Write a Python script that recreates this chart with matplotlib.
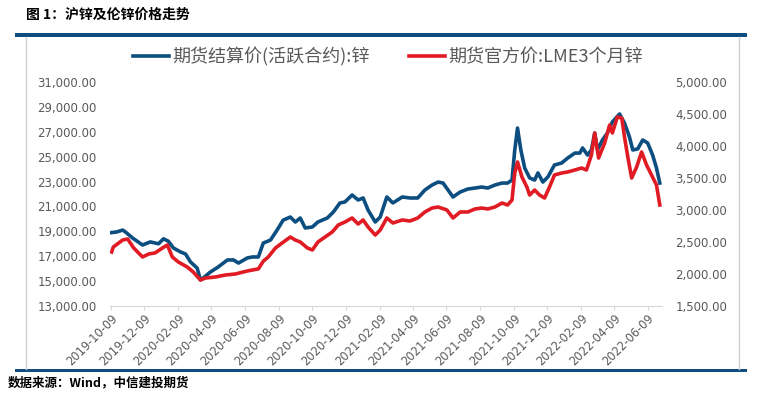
import numpy as np
import pandas as pd
import matplotlib
matplotlib.use("Agg")
import matplotlib.pyplot as plt
import matplotlib.dates as mdates
from matplotlib.lines import Line2D
from matplotlib.patches import Rectangle
from matplotlib.ticker import FuncFormatter

plt.rcParams['font.family'] = ['Noto Sans CJK SC', 'DejaVu Sans']

# SHFE zinc settlement price (active contract), CNY/t
shfe_dates = ['2019-10-11', '2019-10-20', '2019-10-31', '2019-11-05', '2019-11-18', '2019-12-06',
              '2019-12-20', '2020-01-04', '2020-01-13', '2020-01-22', '2020-01-31', '2020-02-13',
              '2020-02-22', '2020-03-02', '2020-03-14', '2020-03-20', '2020-03-25', '2020-04-07',
              '2020-04-21', '2020-05-08', '2020-05-19', '2020-05-28', '2020-06-13', '2020-06-22',
              '2020-07-03', '2020-07-12', '2020-07-25', '2020-08-06', '2020-08-17', '2020-08-30',
              '2020-09-08', '2020-09-17', '2020-09-26', '2020-10-09', '2020-10-19', '2020-11-05',
              '2020-11-16', '2020-11-28', '2020-12-07', '2020-12-20', '2020-12-31', '2021-01-09',
              '2021-01-18', '2021-01-31', '2021-02-09', '2021-02-21', '2021-03-04', '2021-03-21',
              '2021-04-04', '2021-04-18', '2021-05-01', '2021-05-14', '2021-05-25', '2021-06-03',
              '2021-06-12', '2021-06-21', '2021-07-04', '2021-07-18', '2021-07-31', '2021-08-12',
              '2021-08-23', '2021-09-05', '2021-09-18', '2021-09-28', '2021-10-06', '2021-10-11',
              '2021-10-16', '2021-10-22', '2021-10-29', '2021-11-07', '2021-11-16', '2021-11-22',
              '2021-12-01', '2021-12-10', '2021-12-22', '2022-01-04', '2022-01-15', '2022-01-28',
              '2022-02-06', '2022-02-11', '2022-02-20', '2022-02-27', '2022-03-05', '2022-03-10',
              '2022-03-19', '2022-03-28', '2022-04-06', '2022-04-19', '2022-04-28', '2022-05-07',
              '2022-05-13', '2022-05-22', '2022-05-31', '2022-06-09', '2022-06-18', '2022-06-25',
              '2022-07-01']
shfe_zinc = [18900, 18950, 19100, 18950, 18460, 17900,
             18150, 18000, 18400, 18200, 17660, 17340,
             17180, 16540, 16050, 15090, 15250, 15730,
             16130, 16700, 16700, 16450, 16860, 16940,
             16940, 18060, 18300, 19100, 19900, 20150,
             19750, 20070, 19270, 19350, 19750, 20070,
             20550, 21280, 21360, 21920, 21520, 21680,
             20710, 19750, 20150, 21760, 21280, 21760,
             21680, 21680, 22320, 22720, 22960, 22880,
             22320, 21760, 22160, 22400, 22480, 22560,
             22480, 22720, 22880, 22880, 23120, 25540,
             27300, 25540, 24090, 23290, 23120, 23690,
             22960, 23370, 24330, 24490, 24890, 25290,
             25290, 25700, 25130, 25540, 26900, 25540,
             26340, 26900, 27790, 28430, 27700, 26580,
             25540, 25620, 26340, 26100, 25130, 24090,
             22880]

# LME 3-month zinc official price, USD/t
lme_dates = ['2019-10-11', '2019-10-14', '2019-10-31', '2019-11-09', '2019-11-20', '2019-12-06',
             '2019-12-17', '2019-12-29', '2020-01-11', '2020-01-20', '2020-01-29', '2020-02-09',
             '2020-02-25', '2020-03-07', '2020-03-20', '2020-03-29', '2020-04-16', '2020-05-04',
             '2020-05-22', '2020-06-13', '2020-07-03', '2020-07-12', '2020-07-21', '2020-08-03',
             '2020-08-15', '2020-08-30', '2020-09-08', '2020-09-17', '2020-09-30', '2020-10-09',
             '2020-10-19', '2020-11-01', '2020-11-14', '2020-11-25', '2020-12-07', '2020-12-20',
             '2020-12-31', '2021-01-09', '2021-01-18', '2021-01-31', '2021-02-09', '2021-02-21',
             '2021-03-04', '2021-03-21', '2021-04-04', '2021-04-18', '2021-05-01', '2021-05-14',
             '2021-05-25', '2021-06-10', '2021-06-21', '2021-07-04', '2021-07-18', '2021-07-31',
             '2021-08-12', '2021-08-23', '2021-09-05', '2021-09-18', '2021-09-28', '2021-10-06',
             '2021-10-11', '2021-10-16', '2021-10-24', '2021-11-02', '2021-11-07', '2021-11-16',
             '2021-11-25', '2021-12-04', '2021-12-13', '2021-12-22', '2022-01-04', '2022-01-15',
             '2022-01-28', '2022-02-09', '2022-02-18', '2022-02-27', '2022-03-05', '2022-03-12',
             '2022-03-23', '2022-04-01', '2022-04-06', '2022-04-15', '2022-04-23', '2022-04-28',
             '2022-05-04', '2022-05-11', '2022-05-20', '2022-05-29', '2022-06-07', '2022-06-16',
             '2022-06-25', '2022-07-01']
lme_zinc = [2344, 2422, 2531, 2547, 2406, 2266,
            2312, 2330, 2406, 2453, 2266, 2187,
            2110, 2031, 1906, 1937, 1953, 1984,
            2000, 2047, 2080, 2200, 2266, 2406,
            2484, 2578, 2531, 2500, 2406, 2375,
            2500, 2578, 2656, 2766, 2812, 2875,
            2781, 2844, 2734, 2609, 2687, 2875,
            2797, 2844, 2828, 2875, 2969, 3031,
            3047, 3000, 2875, 2969, 2969, 3016,
            3031, 3016, 3047, 3109, 3078, 3156,
            3578, 3750, 3516, 3359, 3234, 3312,
            3234, 3187, 3359, 3547, 3578, 3594,
            3625, 3656, 3625, 3859, 4203, 3812,
            4047, 4328, 4203, 4453, 4437, 4140,
            3828, 3500, 3672, 3906, 3703, 3547,
            3390, 3078]

tick_dates = ['2019-10-09', '2019-12-09', '2020-02-09', '2020-04-09', '2020-06-09', '2020-08-09',
              '2020-10-09', '2020-12-09', '2021-02-09', '2021-04-09', '2021-06-09', '2021-08-09',
              '2021-10-09', '2021-12-09', '2022-02-09', '2022-04-09', '2022-06-09']
left_ticks = [13000, 15000, 17000, 19000, 21000, 23000, 25000, 27000, 29000, 31000]
right_ticks = [1500, 2000, 2500, 3000, 3500, 4000, 4500, 5000]

blue = '#0d4e80'
red = '#e01b24'
gray = '#595959'
num_font = ['DejaVu Sans']

fig = plt.figure(figsize=(7.79, 3.97), dpi=100)
ax = fig.add_axes([110 / 779, 1 - 306 / 397, 552 / 779, 224 / 397])
ax2 = ax.twinx()

l1, = ax.plot(pd.to_datetime(shfe_dates), shfe_zinc, color=blue, lw=2.6, zorder=3)
l2, = ax2.plot(pd.to_datetime(lme_dates), lme_zinc, color=red, lw=2.6, zorder=3)

ax.set_ylim(left_ticks[0], left_ticks[-1])
ax.set_yticks(left_ticks)
ax2.set_ylim(right_ticks[0], right_ticks[-1])
ax2.set_yticks(right_ticks)
fmt = FuncFormatter(lambda v, p: f'{v:,.2f}')
ax.yaxis.set_major_formatter(fmt)
ax2.yaxis.set_major_formatter(fmt)

ax.set_xlim(pd.Timestamp('2019-10-08'), pd.Timestamp('2022-07-05'))
ax.set_xticks(pd.to_datetime(tick_dates))
ax.xaxis.set_major_formatter(mdates.DateFormatter('%Y-%m-%d'))

for a in (ax, ax2):
    for s in a.spines.values():
        s.set_visible(False)
    a.tick_params(axis='y', length=0, labelsize=8.5, labelcolor=gray, pad=9.5)
    for lbl in a.get_yticklabels():
        lbl.set_family(num_font)
ax.spines['bottom'].set_visible(True)
ax.spines['bottom'].set_color('#d9d9d9')
ax.tick_params(axis='x', length=3, color='#d9d9d9', labelsize=8.3, labelcolor=gray, pad=1)
for lbl in ax.get_xticklabels():
    lbl.set_rotation(45)
    lbl.set_ha('right')
    lbl.set_rotation_mode('anchor')
    lbl.set_family(num_font)

fig.legend([l1, l2], ['期货结算价(活跃合约):锌', '期货官方价:LME3个月锌'],
           loc='center', bbox_to_anchor=(388 / 779, 1 - 57 / 397), ncol=2, frameon=False,
           fontsize=13, handlelength=2.0, columnspacing=2.2, handletextpad=0.15,
           labelcolor=gray)

# frame and decorations
fig.add_artist(Rectangle((15 / 779, 1 - 37 / 397), 732 / 779, 3.5 / 397,
                         transform=fig.transFigure, color='#0f4d81', lw=0))
fig.add_artist(Rectangle((15 / 779, 1 - 372 / 397), 732 / 779, 3.5 / 397,
                         transform=fig.transFigure, color='#0f4d81', lw=0))
fig.add_artist(Line2D([26 / 779, 26 / 779], [1 - 369 / 397, 1 - 37 / 397],
                      transform=fig.transFigure, color='#d0d0d0', lw=1))
fig.add_artist(Line2D([739 / 779, 739 / 779], [1 - 369 / 397, 1 - 37 / 397],
                      transform=fig.transFigure, color='#d0d0d0', lw=1))

fig.text(26 / 779, 1 - 15 / 397, '图 1：沪锌及伦锌价格走势', fontsize=10, fontweight='bold',
         va='center', ha='left', color='black')
fig.text(8 / 779, 1 - 383 / 397, '数据来源：Wind，中信建投期货', fontsize=9, fontweight='bold',
         fontstyle='italic', va='center', ha='left', color='black')

fig.savefig('out.png', dpi=100)
